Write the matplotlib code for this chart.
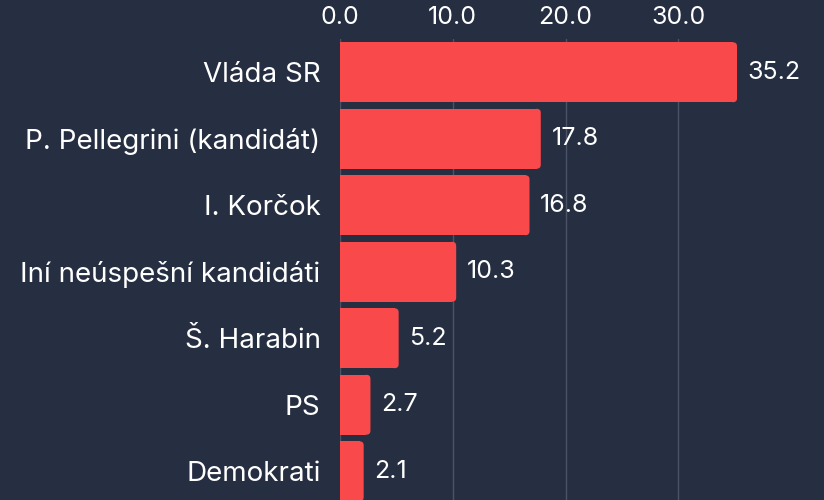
import matplotlib
matplotlib.use("Agg")
import matplotlib.pyplot as plt
from matplotlib.patches import FancyBboxPatch

categories = ["Vláda SR", "P. Pellegrini (kandidát)", "I. Korčok", "Iní neúspešní kandidáti",
              "Š. Harabin", "PS", "Demokrati"]
values = [35.2, 17.8, 16.8, 10.3, 5.2, 2.7, 2.1]
xticks = [0, 10, 20, 30]
xtick_labels = ["0.0", "10.0", "20.0", "30.0"]

BG = "#262e42"
BAR = "#f9494b"
GRID = "#4b5366"
TXT = "#ffffff"

plt.rcParams['font.family'] = ['Inter', 'DejaVu Sans']

fig = plt.figure(figsize=(8.24, 5.0), dpi=100, facecolor=BG)
ax = fig.add_axes([340/824, 0.0, (824-340)/824, (500-39)/500], facecolor=BG)

ypos = list(range(len(categories)))
bars = ax.barh(ypos, values, height=0.9, color=BAR, zorder=3)

xmax = (824 - 340) / 11.28
ax.set_xlim(0, xmax)
ax.set_ylim(-0.5 + 461/66.5, -0.5)

# rounded right ends
r_px = 4.0
rx = r_px / 11.28
ry = r_px / 66.5
for b in bars:
    x, y, w, h = b.get_x(), b.get_y(), b.get_width(), b.get_height()
    b.set_width(w - rx)
    p = FancyBboxPatch((x + w - 2*rx, y), 2*rx, h,
                       boxstyle=f"round,pad=0,rounding_size={rx}",
                       mutation_aspect=ry/rx, facecolor=BAR, edgecolor='none', zorder=3)
    ax.add_patch(p)

for yv, v in zip(ypos, values):
    ax.text(v + 0.95, yv, f"{v:.1f}", va='center', ha='left', color=TXT, fontsize=18, zorder=4)

ax.set_yticks(ypos)
ax.set_yticklabels(categories, color=TXT, fontsize=20)
ax.set_xticks(xticks)
ax.set_xticklabels(xtick_labels, color=TXT, fontsize=18)
ax.xaxis.tick_top()
ax.tick_params(axis='both', length=0)
ax.tick_params(axis='y', pad=14)
ax.tick_params(axis='x', pad=7)
ax.grid(axis='x', color=GRID, linewidth=1, zorder=0)
ax.grid(axis='y', visible=False)
for s in ax.spines.values():
    s.set_visible(False)

fig.savefig("out.png", dpi=100, facecolor=BG)
